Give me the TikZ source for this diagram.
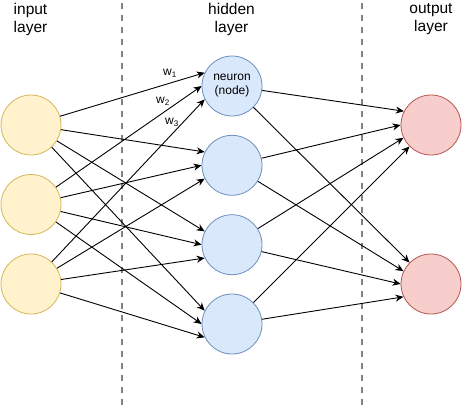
\documentclass[tikz,border=0pt]{standalone}
\usepackage{fontspec}
\setmainfont{Liberation Sans}
\usetikzlibrary{arrows.meta}
\definecolor{infill}{HTML}{FFF2CC}
\definecolor{indraw}{HTML}{D6B656}
\definecolor{hidfill}{HTML}{DAE8FC}
\definecolor{hiddraw}{HTML}{6C8EBF}
\definecolor{outfill}{HTML}{F8CECC}
\definecolor{outdraw}{HTML}{B85450}
\definecolor{sepgray}{HTML}{808080}
\tikzset{
  neur/.style={circle, minimum size=60pt, inner sep=0pt, line width=0.8pt},
  inneur/.style={neur, fill=infill, draw=indraw},
  hidneur/.style={neur, fill=hidfill, draw=hiddraw},
  outneur/.style={neur, fill=outfill, draw=outdraw},
  conn/.style={line width=0.9pt, -{Stealth[length=8pt,width=7pt,inset=2.5pt]}},
  sepline/.style={sepgray, line width=2pt, dash pattern=on 6pt off 6pt},
  lab/.style={align=center, inner sep=0pt, anchor=north, font=\fontsize{15.5}{17.5}\selectfont},
  wlab/.style={inner sep=0pt, font=\fontsize{12}{14}\selectfont},
}
\begin{document}
\begin{tikzpicture}[x=1pt,y=-1pt]
\useasboundingbox (0,0) rectangle (462,407);
% separators
\coordinate (s1t) at (121.7,3);
\coordinate (s1b) at (121.7,405);
\coordinate (s2t) at (361.7,3);
\coordinate (s2b) at (361.7,405);
\draw[sepline] (s1t) -- (s1b);
\draw[sepline] (s2t) -- (s2b);
% layer labels
\node[lab] (linput) at (30.5,3.5) {input\\layer};
\node[lab] (lhidden) at (231.5,3.5) {hidden\\layer};
\node[lab] (loutput) at (431,3.5) {output\\layer};
% neurons
\node[inneur] (i1) at (31,125) {};
\node[inneur] (i2) at (31,204.5) {};
\node[inneur] (i3) at (31,284) {};
\node[hidneur, align=center, font=\fontsize{12}{14}\selectfont] (h1) at (232,86) {neuron\\(node)};
\node[hidneur] (h2) at (232,165.3) {};
\node[hidneur] (h3) at (232,244.7) {};
\node[hidneur] (h4) at (232,324) {};
\node[outneur] (o1) at (431,125) {};
\node[outneur] (o2) at (431,284) {};
% input -> hidden
\foreach \h in {h1,h2,h3,h4}{
  \draw[conn] (i1) -- (\h.154);
  \draw[conn] (i2) -- (\h.180);
  \draw[conn] (i3) -- (\h.206);
}
% hidden -> output
\draw[conn] (h1) -- (o1.153);
\draw[conn] (h2) -- (o1.180);
\draw[conn] (h3) -- (o1.205);
\draw[conn] (h4) -- (o1.225);
\draw[conn] (h1) -- (o2.135);
\draw[conn] (h2) -- (o2.155);
\draw[conn] (h3) -- (o2.180);
\draw[conn] (h4) -- (o2.205);
% weights
\node[wlab] (w1) at (170,73) {w\textsubscript{1}};
\node[wlab] (w2) at (163,101) {w\textsubscript{2}};
\node[wlab] (w3) at (172,122) {w\textsubscript{3}};
\end{tikzpicture}
\end{document}
